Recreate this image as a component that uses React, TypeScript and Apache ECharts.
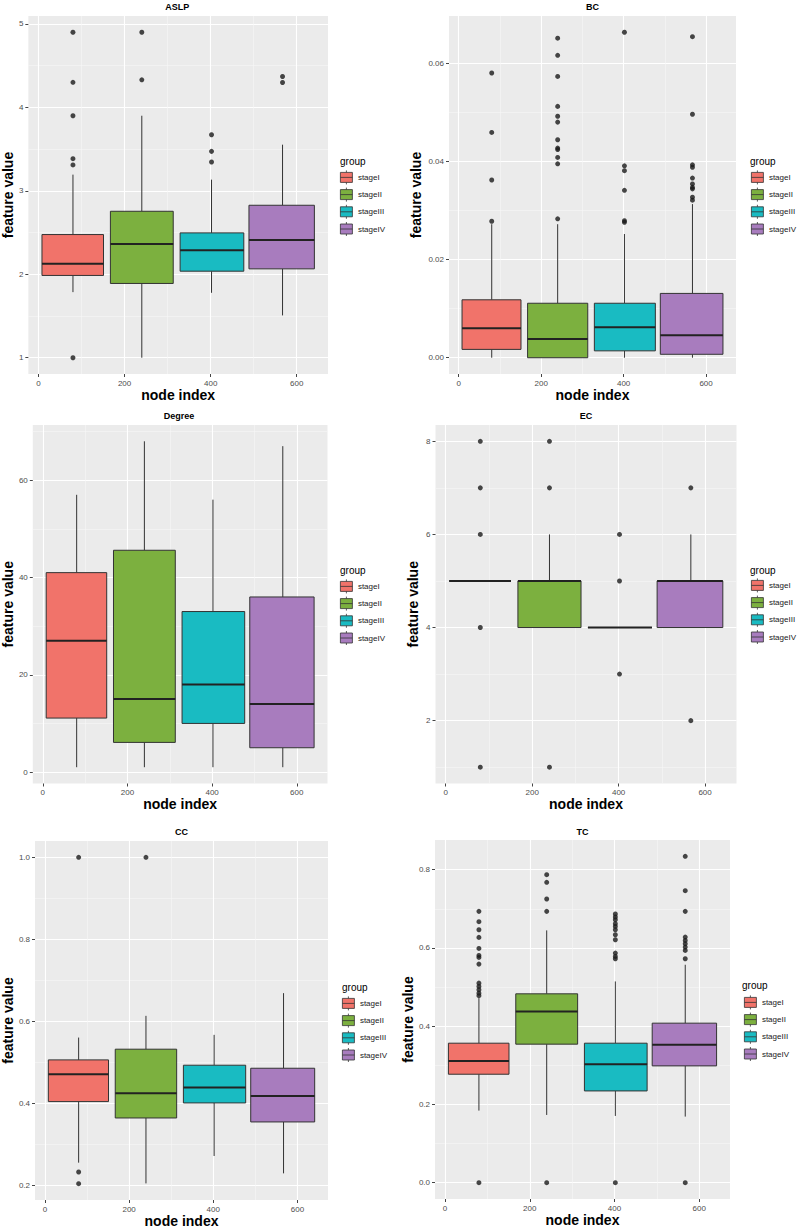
import React, { useEffect, useRef } from "react";
import * as echarts from "echarts";

// ---------- data ----------
const groups = ["stageI", "stageII", "stageIII", "stageIV"];
const groupColors = ["#F1736A", "#7CB03F", "#19BBC2", "#A87CBE"];
// node-index extent of each group's box and its whisker position
const groupXLeft = [8, 167, 329, 489];
const groupXRight = [151, 313, 477, 641];
const groupXCenter = [80, 240, 402, 567];
const xTicks = [0, 200, 400, 600];

const panelTitles = ["ASLP", "BC", "Degree", "EC", "CC", "TC"];

// [lower whisker, Q1, median, Q3, upper whisker] per group
const aslpStats = [
  [1.786, 1.986, 2.125, 2.476, 3.194],
  [1.0, 1.89, 2.364, 2.755, 3.9],
  [1.778, 2.037, 2.289, 2.496, 3.134],
  [1.507, 2.065, 2.412, 2.827, 3.553],
];
const aslpOutliers = [[4.9, 4.3, 3.9, 3.385, 3.31, 1.0], [4.9, 4.33], [3.672, 3.473, 3.345], [4.37, 4.298]];
const aslpTicks = [1, 2, 3, 4, 5];

const bcStats = [
  [0, 0.0017, 0.006, 0.0118, 0.0272],
  [0, 0, 0.0038, 0.0111, 0.0272],
  [0, 0.0014, 0.0062, 0.0111, 0.0252],
  [0, 0.0007, 0.0046, 0.0131, 0.0313],
];
const bcOutliers = [
  [0.058, 0.0459, 0.0362, 0.0278],
  [0.0651, 0.0616, 0.0573, 0.0512, 0.0492, 0.048, 0.0444, 0.0427, 0.0424, 0.0408, 0.0395, 0.0283],
  [0.0663, 0.0391, 0.0381, 0.0341, 0.0279, 0.0276],
  [0.0654, 0.0496, 0.0393, 0.0388, 0.0366, 0.0354, 0.0347, 0.0344, 0.0327, 0.0321],
];
const bcTicks = [0, 0.02, 0.04, 0.06];

const degreeStats = [
  [1, 11.1, 27, 41, 57],
  [1, 6.1, 15, 45.6, 68],
  [1, 10, 18, 33, 56],
  [1, 5, 14, 36, 67],
];
const degreeOutliers = [[], [], [], []];
const degreeTicks = [0, 20, 40, 60];

const ecStats = [
  [5, 5, 5, 5, 5],
  [4, 4, 5, 5, 6],
  [4, 4, 4, 4, 4],
  [4, 4, 5, 5, 6],
];
const ecOutliers = [[8, 7, 6, 4, 1], [8, 7, 1], [6, 5, 3], [7, 2]];
const ecTicks = [2, 4, 6, 8];

const ccStats = [
  [0.2546, 0.4037, 0.4705, 0.5055, 0.56],
  [0.204, 0.3637, 0.424, 0.5316, 0.613],
  [0.2709, 0.4004, 0.4379, 0.4925, 0.5666],
  [0.2285, 0.354, 0.4175, 0.4851, 0.6684],
];
const ccOutliers = [[1.0, 0.2318, 0.2033], [1.0], [], []];
const ccTicks = [0.2, 0.4, 0.6, 0.8, 1.0];

const tcStats = [
  [0.1842, 0.2772, 0.3113, 0.3565, 0.4716],
  [0.1731, 0.354, 0.4375, 0.4827, 0.6448],
  [0.1706, 0.2345, 0.3028, 0.3565, 0.5143],
  [0.1689, 0.2985, 0.3522, 0.4077, 0.557],
];
const tcOutliers = [
  [0.6934, 0.667, 0.6465, 0.6269, 0.5987, 0.5808, 0.5757, 0.5586, 0.51, 0.5015, 0.493, 0.4844, 0.478, 0],
  [0.7872, 0.7676, 0.725, 0.6934, 0],
  [0.6866, 0.679, 0.672, 0.6618, 0.655, 0.6465, 0.6337, 0.6209, 0.5868, 0.5783, 0.5723, 0],
  [0.8341, 0.7463, 0.6934, 0.6277, 0.6192, 0.6107, 0.6021, 0.5936, 0.5723, 0],
];
const tcTicks = [0, 0.2, 0.4, 0.6, 0.8];

const panelStats = [aslpStats, bcStats, degreeStats, ecStats, ccStats, tcStats];
const panelOutliers = [aslpOutliers, bcOutliers, degreeOutliers, ecOutliers, ccOutliers, tcOutliers];
const panelTicks = [aslpTicks, bcTicks, degreeTicks, ecTicks, ccTicks, tcTicks];
const tickSteps = [1, 0.02, 20, 2, 0.2, 0.2];
const tickDecimals = [0, 2, 0, 0, 1, 1];

// ---------- layout ----------
const FONT = "'Liberation Sans', Arial, Helvetica, sans-serif";
const layouts = [
  { left: 26.5, top: 16, width: 301.5, height: 358, nameGap: 10.5, titleY: 7, legX: 340, legTop: 170, grpX: 340, grpY: 161 },
  { left: 449, top: 16, width: 287, height: 358, nameGap: 26, titleY: 7, legX: 751, legTop: 170, grpX: 750, grpY: 161 },
  { left: 30.5, top: 425, width: 297, height: 358.5, nameGap: 14, titleY: 416, legX: 340, legTop: 579, grpX: 340, grpY: 570 },
  { left: 435.5, top: 425, width: 301, height: 358.5, nameGap: 15.5, titleY: 416, legX: 751, legTop: 578, grpX: 750, grpY: 570 },
  { left: 35, top: 841, width: 293, height: 359, nameGap: 18, titleY: 832, legX: 342, legTop: 996, grpX: 342, grpY: 987 },
  { left: 435, top: 840, width: 295, height: 359, nameGap: 18, titleY: 832, legX: 744, legTop: 995, grpX: 742, grpY: 985 },
];

const boxIcon = "path://M6.5,0V2M0.5,2H12.5V12H0.5ZM0.5,7H12.5M6.5,12V14";

function expand(lo: number, hi: number): [number, number] {
  const pad = (hi - lo) * 0.05;
  return [lo - pad, hi + pad];
}

function buildOption() {
  const grid: any[] = [];
  const xAxis: any[] = [];
  const yAxis: any[] = [];
  const series: any[] = [];
  const legend: any[] = [];
  const graphic: any[] = [];
  const [xMin, xMax] = expand(groupXLeft[0], groupXRight[groupXRight.length - 1]);

  panelTitles.forEach((title, p) => {
    const L = layouts[p];
    const stats = panelStats[p];
    const outs = panelOutliers[p];
    const all: number[] = [];
    stats.forEach((s) => all.push(...s));
    outs.forEach((o) => all.push(...o));
    const [yMin, yMax] = expand(Math.min(...all), Math.max(...all));

    grid.push({
      left: L.left, top: L.top, width: L.width, height: L.height,
      show: true, backgroundColor: "#EBEBEB", borderWidth: 0,
    });
    xAxis.push({
      type: "value", gridIndex: p, min: xMin, max: xMax, minInterval: 200, maxInterval: 200,
      position: "bottom",
      name: "node index", nameLocation: "middle", nameGap: 12,
      nameTextStyle: { fontSize: 14, fontWeight: "bold", color: "#000", fontFamily: FONT },
      axisLine: { show: false, onZero: false },
      axisTick: { show: true, length: 3, lineStyle: { color: "#444", width: 1 }, customValues: xTicks },
      axisLabel: { customValues: xTicks, fontSize: 8, color: "#4d4d4d", margin: 5, fontFamily: FONT },
      splitLine: { show: true, lineStyle: { color: "#ffffff", width: 1.1 } },
      minorTick: { show: false, splitNumber: 2 },
      minorSplitLine: { show: true, lineStyle: { color: "#f7f7f7", width: 0.6 } },
    });
    const dec = tickDecimals[p];
    yAxis.push({
      type: "value", gridIndex: p, min: yMin, max: yMax,
      minInterval: tickSteps[p], maxInterval: tickSteps[p],
      position: "left",
      name: "feature value", nameLocation: "middle", nameGap: L.nameGap,
      nameTextStyle: { fontSize: 14, fontWeight: "bold", color: "#000", fontFamily: FONT },
      axisLine: { show: false, onZero: false },
      axisTick: { show: true, length: 3, lineStyle: { color: "#444", width: 1 }, customValues: panelTicks[p] },
      axisLabel: {
        customValues: panelTicks[p], fontSize: 8, color: "#4d4d4d", margin: 5, fontFamily: FONT,
        formatter: (v: number) => v.toFixed(dec),
      },
      splitLine: { show: true, lineStyle: { color: "#ffffff", width: 1.1 } },
      minorTick: { show: false, splitNumber: 2 },
      minorSplitLine: { show: true, lineStyle: { color: "#f7f7f7", width: 0.6 } },
    });

    groups.forEach((g, s) => {
      const color = groupColors[s];
      const st = stats[s];
      series.push({
        type: "custom", name: g, xAxisIndex: p, yAxisIndex: p, silent: true, z: 2,
        itemStyle: { color, borderColor: "#333", borderWidth: 0.8 },
        encode: { x: [0, 1, 2], y: [3, 4, 5, 6, 7] },
        data: [[groupXLeft[s], groupXRight[s], groupXCenter[s], st[0], st[1], st[2], st[3], st[4]]],
        renderItem: (params: any, api: any) => {
          const xl = api.value(0), xr = api.value(1), xc = api.value(2);
          const lo = api.value(3), q1 = api.value(4), md = api.value(5), q3 = api.value(6), hi = api.value(7);
          const tl = api.coord([xl, q3]);
          const br = api.coord([xr, q1]);
          const wTop = api.coord([xc, hi]);
          const wQ3 = api.coord([xc, q3]);
          const wQ1 = api.coord([xc, q1]);
          const wLo = api.coord([xc, lo]);
          const mL = api.coord([xl, md]);
          const mR = api.coord([xr, md]);
          const lineStyle = { stroke: "#333", lineWidth: 1 };
          return {
            type: "group",
            children: [
              { type: "line", shape: { x1: wTop[0], y1: wTop[1], x2: wQ3[0], y2: wQ3[1] }, style: lineStyle },
              { type: "line", shape: { x1: wLo[0], y1: wLo[1], x2: wQ1[0], y2: wQ1[1] }, style: lineStyle },
              {
                type: "rect",
                shape: { x: tl[0], y: tl[1], width: br[0] - tl[0], height: br[1] - tl[1] },
                style: { fill: color, stroke: "#333", lineWidth: 1 },
              },
              { type: "line", shape: { x1: mL[0], y1: mL[1], x2: mR[0], y2: mR[1] }, style: { stroke: "#222", lineWidth: 2 } },
            ],
          };
        },
      });
    });

    const pts: number[][] = [];
    outs.forEach((arr, s) => arr.forEach((v) => pts.push([groupXCenter[s], v])));
    series.push({
      type: "scatter", name: "outliers", xAxisIndex: p, yAxisIndex: p, silent: true, z: 3,
      symbolSize: 5, itemStyle: { color: "#1a1a1a" }, data: pts,
    });

    legend.push({
      left: L.legX, top: L.legTop, orient: "vertical", padding: 0,
      itemWidth: 13, itemHeight: 14, itemGap: 2.4, icon: boxIcon, selectedMode: false,
      data: groups,
      itemStyle: { borderColor: "#333", borderWidth: 0.8 },
      textStyle: { fontSize: 8, color: "#1a1a1a", fontFamily: FONT },
    });

    graphic.push({
      type: "text", x: L.left + L.width / 2, y: L.titleY, silent: true,
      style: { text: title, fontSize: 9, fontWeight: "bold", fill: "#000", align: "center", verticalAlign: "middle", fontFamily: FONT },
    });
    graphic.push({
      type: "text", x: L.grpX, y: L.grpY, silent: true,
      style: { text: "group", fontSize: 10, fill: "#000", align: "left", verticalAlign: "middle", fontFamily: FONT },
    });
  });

  return { animation: false, backgroundColor: "#ffffff", grid, xAxis, yAxis, series, legend, graphic };
}

export default function App() {
  const ref = useRef<HTMLDivElement>(null);
  useEffect(() => {
    if (!ref.current) return;
    const chart = echarts.init(ref.current, undefined, { renderer: "svg" });
    chart.setOption(buildOption() as any);
    return () => chart.dispose();
  }, []);
  return (
    <div
      ref={ref}
      style={{ position: "absolute", left: 0, top: 0, width: 800, height: 1229 }}
    />
  );
}
